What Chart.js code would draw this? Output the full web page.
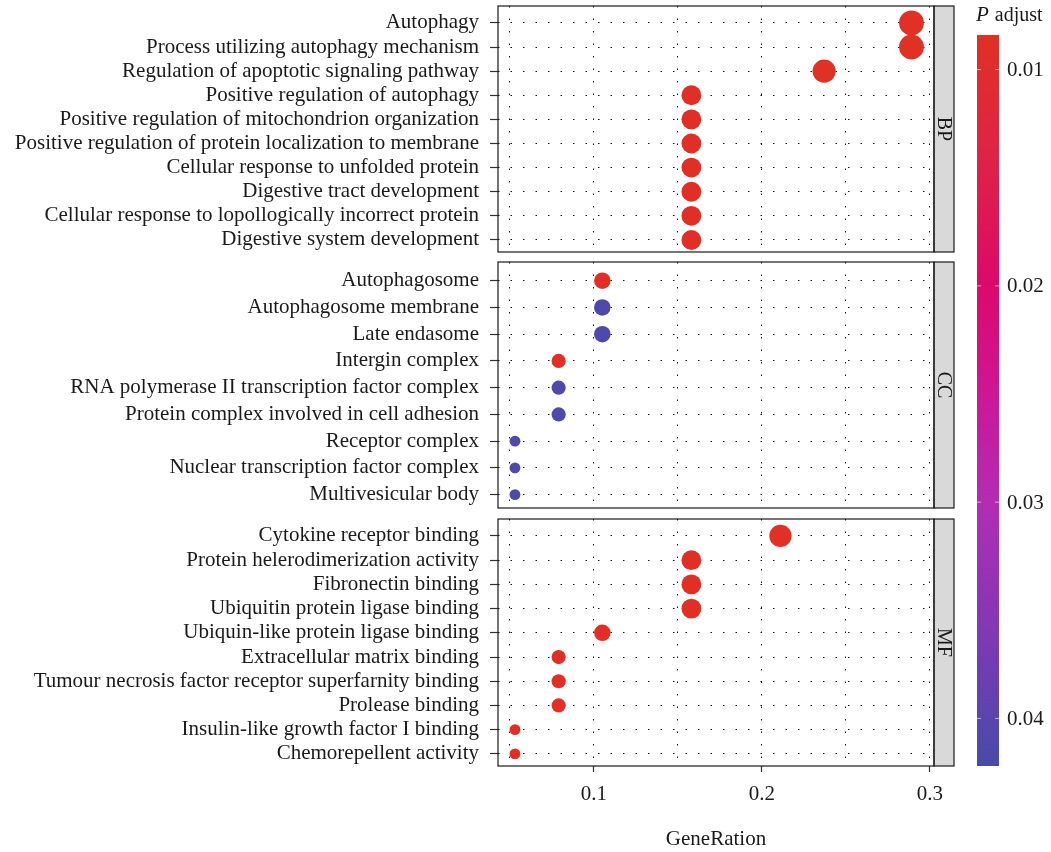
<!DOCTYPE html>
<html>
<head>
<meta charset="utf-8">
<script src="https://cdn.jsdelivr.net/npm/chart.js@4.4.1/dist/chart.umd.min.js"></script>
<style>
  html, body { margin: 0; padding: 0; background: #fff; }
  #wrap { position: relative; width: 1051px; height: 852px; }
  #wrap canvas { position: absolute; left: 0; top: 0; }
</style>
</head>
<body>
<div id="wrap">
  <canvas id="bpChart" width="1051" height="852"></canvas>
  <canvas id="ccChart" width="1051" height="852"></canvas>
  <canvas id="mfChart" width="1051" height="852"></canvas>
</div>
<script>
// GO enrichment terms, gene ratio, count and adjusted p for each panel
const bpTerms = [
    'Autophagy',
    'Process utilizing autophagy mechanism',
    'Regulation of apoptotic signaling pathway',
    'Positive regulation of autophagy',
    'Positive regulation of mitochondrion organization',
    'Positive regulation of protein localization to membrane',
    'Cellular response to unfolded protein',
    'Digestive tract development',
    'Cellular response to lopollogically incorrect protein',
    'Digestive system development'
];
const bpRatio = [0.289, 0.289, 0.237, 0.158, 0.158, 0.158, 0.158, 0.158, 0.158, 0.158];
const bpCount = [11, 11, 9, 6, 6, 6, 6, 6, 6, 6];
const bpPadj = [0.0084, 0.0084, 0.0086, 0.0088, 0.0088, 0.0088, 0.0088, 0.0088, 0.0088, 0.0088];

const ccTerms = [
    'Autophagosome',
    'Autophagosome membrane',
    'Late endasome',
    'Intergin complex',
    'RNA polymerase II transcription factor complex',
    'Protein complex involved in cell adhesion',
    'Receptor complex',
    'Nuclear transcription factor complex',
    'Multivesicular body'
];
const ccRatio = [0.105, 0.105, 0.105, 0.079, 0.079, 0.079, 0.053, 0.053, 0.053];
const ccCount = [4, 4, 4, 3, 3, 3, 2, 2, 2];
const ccPadj = [0.0088, 0.0412, 0.0412, 0.0088, 0.0412, 0.0412, 0.0414, 0.0414, 0.0414];

const mfTerms = [
    'Cytokine receptor binding',
    'Protein helerodimerization activity',
    'Fibronectin binding',
    'Ubiquitin protein ligase binding',
    'Ubiquin-like protein ligase binding',
    'Extracellular matrix binding',
    'Tumour necrosis factor receptor superfarnity binding',
    'Prolease binding',
    'Insulin-like growth factor I binding',
    'Chemorepellent activity'
];
const mfRatio = [0.211, 0.158, 0.158, 0.158, 0.105, 0.079, 0.079, 0.079, 0.053, 0.053];
const mfCount = [8, 6, 6, 6, 4, 3, 3, 3, 2, 2];
const mfPadj = [0.0086, 0.0088, 0.0088, 0.0088, 0.0088, 0.0088, 0.0088, 0.0088, 0.0088, 0.0088];

const xTicks = [0.05, 0.1, 0.15, 0.2, 0.25, 0.3];
const xLabels = ['0.1', '0.2', '0.3'];
const padjTicks = [0.01, 0.02, 0.03, 0.04];

// colour scale limits (ends of the colour bar)
const P_MIN = 0.0084;
const P_MAX = 0.0422;
const X_MIN = 0.0429;
const X_MAX = 0.3024;

const FONT = "'Liberation Serif', 'DejaVu Serif', serif";
const FONT_SIZE = 21;
const TEXT_COLOR = '#1a1a1a';

// red -> magenta -> purple -> blue
const colourStops = [
    [0.00, [225, 48, 36]],
    [0.17, [224, 34, 70]],
    [0.34, [222, 8, 105]],
    [0.49, [205, 22, 150]],
    [0.64, [178, 45, 180]],
    [0.82, [128, 56, 180]],
    [1.00, [70, 76, 170]]
];

function padjColour(p) {
    let t = (p - P_MIN) / (P_MAX - P_MIN);
    t = Math.max(0, Math.min(1, t));
    for (let i = 1; i < colourStops.length; i++) {
        const [t1, c1] = colourStops[i];
        const [t0, c0] = colourStops[i - 1];
        if (t <= t1) {
            const f = (t - t0) / (t1 - t0);
            const c = c0.map((v, k) => Math.round(v + (c1[k] - v) * f));
            return `rgb(${c[0]}, ${c[1]}, ${c[2]})`;
        }
    }
    return 'rgb(70, 76, 170)';
}

// dot size from gene count
const countRadius = (n) => 2.6 + 4.1 * Math.log(n);

const isMajor = (v) => Math.abs(v * 10 - Math.round(v * 10)) < 1e-6;

// panel frame + facet strip
const panelPlugin = {
    id: 'panelFrame',
    afterDraw(chart, args, opts) {
        const { ctx, chartArea } = chart;
        const { left, right, top, bottom } = chartArea;
        ctx.save();
        // strip
        ctx.fillStyle = '#d9d9d9';
        ctx.fillRect(right, top, 20, bottom - top);
        ctx.strokeStyle = '#1a1a1a';
        ctx.lineWidth = 1.2;
        ctx.strokeRect(right, top, 20, bottom - top);
        ctx.strokeRect(left, top, right - left, bottom - top);
        ctx.translate(right + 10, (top + bottom) / 2);
        ctx.rotate(Math.PI / 2);
        ctx.fillStyle = TEXT_COLOR;
        ctx.font = `20px ${FONT}`;
        ctx.textAlign = 'center';
        ctx.textBaseline = 'middle';
        ctx.fillText(opts.label, 0, 1);
        ctx.restore();
    }
};

// colour bar legend for P adjust
const colourBarPlugin = {
    id: 'colourBar',
    afterDraw(chart) {
        if (!chart.options.plugins.colourBar.show) return;
        const ctx = chart.ctx;
        const x0 = 977, w = 22, y0 = 35, y1 = 766;
        ctx.save();
        const grad = ctx.createLinearGradient(0, y0, 0, y1);
        for (let i = 0; i <= 40; i++) {
            const t = i / 40;
            grad.addColorStop(t, padjColour(P_MIN + t * (P_MAX - P_MIN)));
        }
        ctx.fillStyle = grad;
        ctx.fillRect(x0, y0, w, y1 - y0);
        ctx.font = `${FONT_SIZE}px ${FONT}`;
        ctx.textAlign = 'left';
        ctx.textBaseline = 'middle';
        padjTicks.forEach(p => {
            const y = y0 + (p - P_MIN) / (P_MAX - P_MIN) * (y1 - y0);
            ctx.strokeStyle = 'rgba(255,255,255,0.6)';
            ctx.lineWidth = 1;
            ctx.beginPath();
            ctx.moveTo(x0, y); ctx.lineTo(x0 + 4, y);
            ctx.moveTo(x0 + w - 4, y); ctx.lineTo(x0 + w, y);
            ctx.stroke();
            ctx.fillStyle = TEXT_COLOR;
            ctx.fillText(p.toFixed(2), x0 + w + 8, y + 1);
        });
        // title: italic P
        ctx.textBaseline = 'alphabetic';
        ctx.font = `italic ${FONT_SIZE}px ${FONT}`;
        ctx.fillText('P', 976, 21);
        const pw = ctx.measureText('P').width;
        ctx.font = `20px ${FONT}`;
        ctx.fillText(' adjust', 976 + pw + 1, 21);
        ctx.restore();
    }
};

function makePanel(canvasId, label, terms, ratio, count, padj, top, bottom, showX) {
    const n = terms.length;
    const ctx = document.getElementById(canvasId).getContext('2d');
    return new Chart(ctx, {
        type: 'scatter',
        data: {
            datasets: [{
                data: ratio.map((r, i) => ({ x: r, y: i })),
                pointRadius: count.map(countRadius),
                pointHoverRadius: count.map(countRadius),
                pointBackgroundColor: padj.map(padjColour),
                pointBorderWidth: 0,
                pointBorderColor: 'rgba(0,0,0,0)'
            }]
        },
        options: {
            responsive: false,
            animation: false,
            events: [],
            layout: {
                autoPadding: false,
                padding: { top: top, bottom: showX ? 0 : 852 - bottom, left: 0, right: 117 }
            },
            plugins: {
                legend: { display: false },
                tooltip: { enabled: false },
                panelFrame: { label: label },
                colourBar: { show: showX }
            },
            scales: {
                x: {
                    type: 'linear',
                    min: X_MIN,
                    max: X_MAX,
                    afterBuildTicks: s => { s.ticks = xTicks.map(v => ({ value: v })); },
                    afterFit: s => {
                        s.height = showX ? 852 - bottom : 0;
                        s.paddingLeft = 0;
                        s.paddingRight = 0;
                    },
                    ticks: {
                        display: showX,
                        autoSkip: false,
                        maxRotation: 0,
                        padding: 10,
                        color: TEXT_COLOR,
                        font: { family: FONT, size: FONT_SIZE },
                        callback: v => isMajor(v) ? xLabels[Math.round(v * 10) - 1] : ''
                    },
                    grid: {
                        color: '#111',
                        lineWidth: 1,
                        drawTicks: showX,
                        tickLength: 6,
                        tickWidth: 1.2,
                        tickBorderDash: [],
                        tickColor: c => (c.tick && isMajor(c.tick.value)) ? '#333' : 'rgba(0,0,0,0)'
                    },
                    border: { display: false, dash: [1.5, 11] },
                    title: {
                        display: showX,
                        text: 'GeneRation',
                        color: TEXT_COLOR,
                        font: { family: FONT, size: FONT_SIZE },
                        padding: { top: 0, bottom: 0 }
                    }
                },
                y: {
                    type: 'linear',
                    reverse: true,
                    min: -0.7,
                    max: n - 1 + 0.5,
                    afterBuildTicks: s => { s.ticks = terms.map((_, i) => ({ value: i })); },
                    afterFit: s => {
                        s.width = 498;
                        s.paddingTop = 0;
                        s.paddingBottom = 0;
                    },
                    ticks: {
                        autoSkip: false,
                        padding: 11,
                        color: TEXT_COLOR,
                        font: { family: FONT, size: FONT_SIZE },
                        callback: v => terms[v]
                    },
                    grid: {
                        color: '#111',
                        lineWidth: 1,
                        tickLength: 8,
                        tickWidth: 1.2,
                        tickColor: '#333',
                        tickBorderDash: []
                    },
                    border: { display: false, dash: [1.5, 11] }
                }
            }
        },
        plugins: [panelPlugin, colourBarPlugin]
    });
}

makePanel('bpChart', 'BP', bpTerms, bpRatio, bpCount, bpPadj, 6, 252, false);
makePanel('ccChart', 'CC', ccTerms, ccRatio, ccCount, ccPadj, 262, 508, false);
makePanel('mfChart', 'MF', mfTerms, mfRatio, mfCount, mfPadj, 519, 766, true);
</script>
</body>
</html>
